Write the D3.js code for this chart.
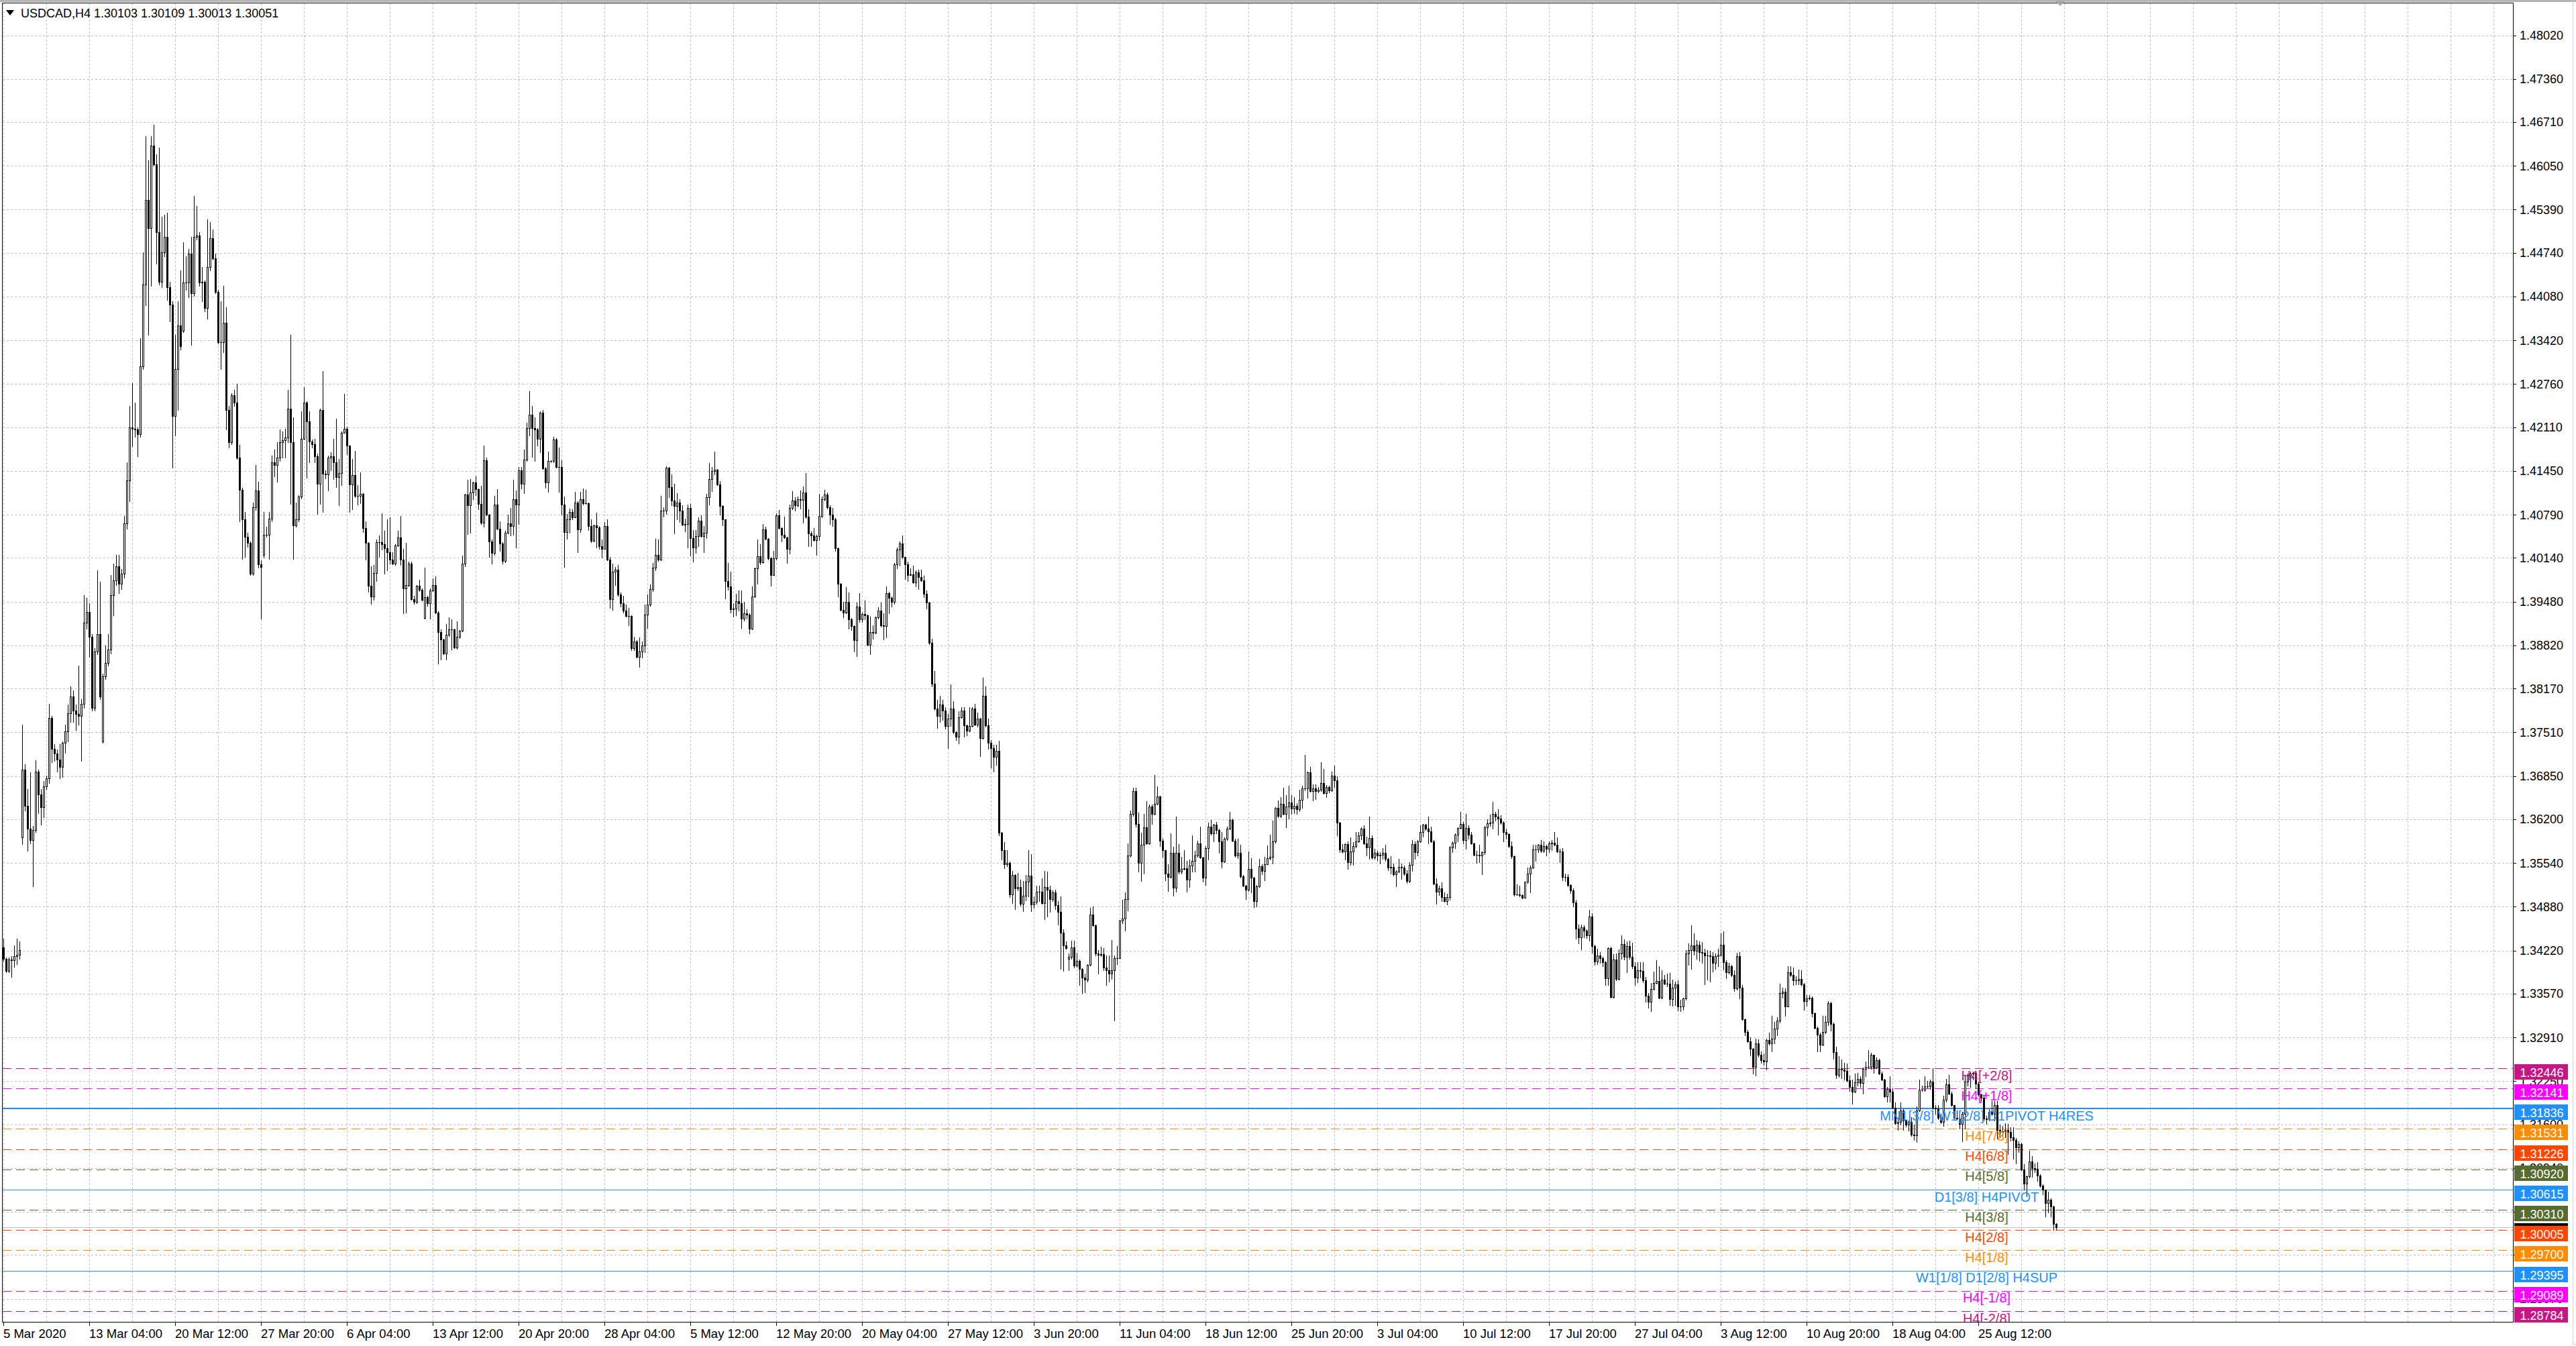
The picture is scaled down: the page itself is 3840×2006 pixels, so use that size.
<!DOCTYPE html>
<html lang="en">
<head>
<meta charset="UTF-8">
<title>USDCAD,H4</title>
<script src="https://d3js.org/d3.v7.min.js"></script>
<style>
  html, body { margin: 0; padding: 0; background: #fff; }
  svg { display: block; }
  text { font-family: "Liberation Sans", Arial, sans-serif; }
</style>
</head>
<body>
<svg id="chart"></svg>
<script>
const W = 3840, H = 2006;

// H4 bars, 5 Mar 2020 20:00 .. 1 Sep 2020 08:00, prices stored as price * 10000
const closes = [
13410,13391,13408,13407,13414,13416,13423,13695,13640,13606,13589,13604,13692,13657,13638,13669,13682,13773,13726,13719,
13710,13699,13735,13752,13780,13805,13784,13779,13776,13794,13916,13933,13895,13788,13873,13899,13805,13835,13856,13876,
13958,13980,14001,13975,13990,14066,14131,14211,14209,14208,14201,14303,14426,14554,14511,14636,14607,14505,14430,14475,
14498,14422,14396,14228,14299,14364,14333,14429,14429,14473,14413,14498,14500,14429,14430,14391,14452,14496,14466,14415,
14339,14339,14369,14237,14188,14259,14248,14165,14117,14072,14046,14037,13990,14090,14116,14004,14000,14049,14049,14073,
14158,14154,14165,14188,14191,14196,14239,14188,14063,14072,14107,14194,14248,14220,14189,14185,14167,14126,14237,14141,
14140,14165,14167,14158,14136,14142,14203,14209,14183,14125,14139,14108,14108,14111,14059,14037,13972,13956,13991,14038,
14038,14035,14029,14023,14011,14005,14033,14045,14011,13968,13973,14005,13952,13948,13972,13966,13951,13955,13946,13965,
13973,13931,13902,13891,13870,13898,13906,13906,13879,13895,13904,14005,14110,14093,14113,14128,14118,14095,14067,14161,
14079,14039,14022,14094,14058,14036,14009,14052,14066,14062,14102,14094,14146,14126,14162,14210,14230,14210,14208,14194,
14233,14149,14128,14160,14160,14193,14151,14151,14094,14053,14072,14083,14075,14097,14057,14102,14096,14096,14062,14040,
14063,14060,14032,14028,14062,14011,13952,13993,13996,13959,13946,13935,13926,13926,13878,13888,13865,13873,13882,13928,
13944,13967,13999,14019,14011,14085,14085,14150,14121,14100,14092,14097,14085,14064,14065,14089,14044,14030,14047,14070,
14047,14052,14105,14133,14145,14147,14125,14092,14072,13979,13971,13937,13938,13949,13946,13922,13930,13928,13907,13956,
13998,14016,14007,14057,14043,14013,13988,14013,14078,14059,14049,14045,14028,14089,14100,14093,14102,14101,14113,14076,
14051,14048,14041,14047,14077,14102,14110,14090,14079,14072,14029,13975,13936,13931,13948,13921,13911,13890,13941,13921,
13929,13927,13883,13902,13901,13924,13935,13912,13911,13961,13954,13948,14004,14027,14036,14015,14004,13988,13989,13977,
13992,13985,13980,13960,13947,13886,13824,13787,13776,13793,13784,13761,13772,13787,13751,13744,13774,13784,13762,13753,
13761,13787,13763,13772,13742,13806,13762,13735,13727,13714,13723,13600,13573,13552,13554,13507,13536,13516,13518,13492,
13505,13526,13535,13491,13495,13511,13511,13493,13518,13514,13500,13510,13490,13480,13449,13430,13426,13413,13427,13399,
13406,13394,13381,13378,13400,13476,13460,13418,13416,13417,13396,13392,13387,13392,13411,13411,13467,13470,13500,13565,
13628,13662,13613,13554,13581,13608,13583,13639,13628,13643,13654,13588,13573,13538,13533,13569,13517,13569,13541,13545,
13546,13529,13550,13557,13565,13583,13562,13532,13576,13609,13599,13612,13604,13587,13556,13591,13606,13619,13588,13565,
13569,13534,13520,13514,13545,13532,13497,13519,13549,13542,13552,13561,13563,13587,13637,13625,13643,13628,13639,13645,
13636,13640,13635,13649,13666,13666,13691,13662,13666,13662,13664,13675,13659,13668,13663,13686,13679,13615,13574,13571,
13582,13555,13571,13579,13587,13596,13606,13584,13577,13592,13562,13569,13565,13566,13569,13560,13547,13548,13537,13541,
13548,13547,13538,13527,13551,13582,13570,13587,13601,13612,13606,13602,13587,13523,13511,13516,13503,13496,13503,13577,
13585,13597,13607,13613,13589,13607,13597,13583,13566,13566,13565,13570,13608,13614,13615,13628,13624,13621,13615,13601,
13598,13579,13564,13507,13507,13506,13502,13526,13538,13547,13574,13574,13581,13572,13579,13575,13584,13585,13581,13571,
13571,13533,13533,13521,13513,13494,13455,13442,13457,13452,13445,13473,13429,13405,13415,13411,13404,13380,13426,13352,
13408,13379,13418,13432,13413,13429,13413,13398,13381,13392,13391,13377,13354,13345,13364,13373,13376,13351,13378,13372,
13372,13349,13366,13371,13338,13338,13350,13418,13423,13430,13422,13431,13420,13419,13415,13415,13414,13403,13414,13416,
13431,13404,13389,13398,13385,13365,13414,13366,13318,13299,13285,13274,13247,13282,13265,13257,13255,13287,13282,13289,
13304,13316,13358,13360,13338,13389,13385,13377,13377,13379,13371,13346,13350,13351,13328,13305,13295,13280,13299,13314,
13343,13311,13269,13234,13244,13243,13241,13226,13216,13209,13223,13228,13222,13244,13247,13247,13265,13246,13257,13237,
13227,13202,13213,13209,13185,13162,13164,13181,13166,13160,13164,13144,13143,13181,13212,13212,13217,13217,13224,13185,
13184,13170,13164,13197,13220,13206,13189,13170,13169,13161,13176,13224,13233,13237,13238,13221,13205,13200,13169,13168,
13179,13176,13189,13152,13148,13150,13152,13148,13140,13136,13125,13130,13092,13071,13082,13104,13094,13093,13083,13068,
13061,13041,13046,13036,13010,13005
];
const highs = [
13440,13412,13412,13414,13430,13440,13436,13763,13703,13665,13691,13610,13709,13695,13665,13678,13686,13794,13776,13733,
13725,13733,13737,13763,13793,13820,13814,13793,13852,13801,13958,13954,13946,13899,13878,13995,13978,13839,13882,13899,
13988,14005,14018,14018,13997,14077,14158,14243,14277,14248,14211,14345,14475,14650,14613,14650,14667,14622,14633,14528,
14531,14534,14430,14401,14350,14401,14447,14490,14469,14480,14498,14560,14545,14505,14452,14432,14524,14520,14509,14473,
14418,14401,14424,14392,14243,14262,14267,14276,14184,14120,14083,14052,14039,14097,14154,14129,14010,14083,14061,14083,
14168,14177,14188,14208,14205,14209,14267,14350,14226,14097,14109,14235,14271,14250,14235,14192,14194,14171,14239,14296,
14146,14168,14173,14194,14224,14163,14205,14261,14212,14183,14163,14175,14124,14143,14112,14069,14038,14001,14003,14042,
14048,14081,14055,14072,14075,14023,14035,14055,14077,14028,14037,14008,14008,13957,13973,13981,13968,13999,13957,13968,
13983,13986,13934,13906,13892,13914,13924,13921,13907,13918,13905,14017,14111,14132,14133,14129,14137,14119,14123,14183,
14165,14080,14042,14108,14118,14069,14038,14055,14079,14089,14132,14116,14151,14151,14177,14218,14265,14243,14226,14210,
14235,14237,14151,14174,14161,14197,14195,14180,14161,14107,14080,14088,14087,14114,14099,14114,14119,14117,14097,14072,
14064,14082,14062,14042,14068,14072,14015,14005,14000,14003,13962,13957,13944,13939,13927,13895,13890,13894,13888,13944,
13959,13974,14006,14043,14042,14108,14090,14152,14151,14140,14126,14112,14102,14093,14073,14094,14095,14056,14056,14075,
14078,14062,14111,14157,14151,14174,14148,14130,14093,14072,14006,13993,13946,13960,13965,13965,13948,13937,13930,13971,
13999,14042,14035,14065,14061,14044,14015,14025,14081,14086,14060,14076,14046,14094,14115,14105,14107,14116,14122,14142,
14087,14054,14059,14049,14111,14107,14117,14113,14093,14089,14074,14030,13976,13948,13970,13962,13923,13912,13947,13961,
13931,13950,13928,13925,13912,13925,13940,13947,13930,13971,13963,13956,14006,14030,14039,14048,14015,14008,13998,14002,
13995,13996,13996,13987,13965,13948,13892,13843,13800,13806,13800,13789,13779,13823,13798,13752,13783,13789,13789,13763,
13789,13789,13794,13781,13773,13833,13820,13772,13739,13732,13732,13738,13601,13586,13573,13556,13542,13537,13539,13529,
13527,13536,13573,13567,13504,13520,13520,13531,13542,13541,13520,13513,13514,13496,13504,13454,13436,13418,13437,13437,
13419,13408,13395,13387,13401,13486,13488,13461,13423,13428,13426,13415,13415,13438,13415,13429,13468,13499,13510,13584,
13633,13667,13667,13630,13600,13628,13647,13642,13642,13687,13669,13655,13591,13573,13552,13599,13578,13624,13582,13563,
13573,13557,13559,13596,13572,13588,13609,13563,13579,13615,13619,13613,13616,13606,13601,13593,13609,13631,13621,13591,
13591,13581,13536,13521,13571,13561,13533,13521,13560,13552,13563,13580,13597,13618,13638,13648,13653,13667,13656,13671,
13656,13653,13644,13664,13670,13717,13692,13699,13673,13673,13668,13706,13696,13672,13670,13692,13701,13685,13616,13582,
13584,13587,13593,13586,13601,13601,13608,13611,13594,13624,13596,13575,13572,13570,13576,13581,13561,13564,13553,13543,
13560,13553,13550,13543,13555,13589,13587,13589,13611,13613,13613,13624,13609,13589,13531,13520,13525,13510,13508,13579,
13587,13599,13608,13631,13616,13628,13611,13601,13585,13572,13581,13571,13610,13620,13627,13646,13631,13635,13626,13617,
13606,13599,13587,13565,13522,13520,13507,13526,13547,13550,13581,13581,13582,13589,13587,13581,13587,13589,13601,13593,
13575,13576,13538,13537,13522,13516,13499,13461,13461,13460,13454,13483,13478,13431,13425,13420,13413,13406,13427,13428,
13417,13418,13424,13445,13439,13436,13437,13434,13404,13404,13404,13404,13382,13358,13373,13390,13407,13398,13392,13385,
13387,13388,13378,13375,13377,13348,13351,13423,13433,13460,13448,13438,13436,13435,13425,13423,13422,13420,13418,13425,
13448,13451,13407,13403,13400,13392,13419,13420,13370,13319,13302,13291,13275,13289,13288,13270,13267,13289,13298,13324,
13314,13321,13372,13366,13365,13398,13398,13396,13383,13393,13392,13373,13355,13355,13353,13329,13307,13298,13324,13324,
13346,13345,13313,13277,13263,13258,13253,13252,13233,13227,13237,13238,13232,13246,13255,13272,13268,13263,13261,13259,
13240,13228,13216,13232,13214,13193,13170,13193,13183,13167,13166,13171,13160,13187,13227,13218,13232,13225,13227,13245,
13189,13189,13176,13203,13228,13234,13209,13189,13181,13173,13179,13233,13237,13240,13240,13240,13224,13206,13203,13173,
13183,13195,13195,13195,13160,13158,13162,13161,13156,13156,13139,13134,13132,13100,13083,13120,13112,13101,13103,13085,
13070,13062,13058,13048,13037,13011
];
const lows = [
13406,13389,13389,13382,13397,13401,13410,13582,13633,13572,13584,13519,13601,13629,13612,13623,13665,13675,13706,13708,
13692,13682,13684,13720,13737,13767,13767,13754,13763,13708,13788,13907,13865,13784,13784,13869,13801,13735,13831,13852,
13870,13927,13973,13961,13967,13984,14058,14099,14182,14197,14167,14197,14299,14395,14350,14424,14605,14458,14426,14422,
14469,14403,14371,14150,14199,14237,14328,14354,14418,14407,14335,14409,14494,14424,14401,14386,14375,14447,14464,14413,
14337,14299,14324,14208,14180,14185,14243,14163,14069,14012,14015,14031,13988,13988,14086,13999,13922,14014,14046,14012,
14069,14137,14129,14160,14165,14165,14188,14095,14012,14061,14069,14103,14192,14135,14158,14180,14158,14080,14095,14083,
14134,14116,14146,14133,14121,14093,14124,14203,14170,14083,14087,14106,14094,14096,14053,14011,13963,13945,13951,13979,
14015,14027,13990,13995,14005,14004,14003,14032,14003,13930,13932,13971,13951,13945,13946,13964,13950,13922,13942,13922,
13964,13930,13855,13861,13869,13861,13896,13876,13878,13877,13893,13903,14001,14050,14052,14102,14109,14087,14065,14061,
14078,14015,14005,14019,14057,14025,14005,14007,14051,14048,14049,14030,14065,14119,14112,14160,14199,14166,14160,14183,
14173,14148,14120,14114,14158,14158,14150,14114,14079,14000,14043,14052,14072,14075,14023,14053,14094,14095,14056,14038,
14039,14030,14028,14014,14028,14010,13939,13936,13973,13957,13941,13932,13925,13912,13875,13875,13864,13850,13864,13872,
13908,13942,13964,13995,14009,14010,14076,14080,14106,14093,14051,14072,14068,14063,14054,14030,14017,14008,14022,14032,
14046,14023,14044,14094,14115,14140,14124,14079,14063,13953,13966,13931,13925,13927,13935,13908,13919,13922,13900,13906,
13955,13975,14004,14006,14042,14011,13972,13988,14011,14058,14039,14044,14006,14021,14087,14085,14091,14088,14067,14074,
14032,14032,14040,14018,14041,14075,14100,14088,14065,14062,14025,13956,13935,13924,13930,13907,13905,13873,13866,13917,
13917,13921,13882,13869,13892,13900,13922,13910,13891,13894,13930,13941,13945,13998,14002,14013,13982,13979,13988,13976,
13971,13967,13979,13955,13938,13884,13820,13785,13757,13767,13770,13756,13727,13761,13749,13739,13734,13773,13744,13746,
13752,13760,13762,13760,13715,13741,13760,13726,13698,13692,13702,13596,13559,13546,13549,13503,13493,13484,13513,13489,
13481,13498,13504,13481,13486,13492,13497,13492,13469,13473,13480,13497,13484,13461,13394,13391,13425,13392,13410,13396,
13397,13370,13358,13359,13375,13399,13459,13415,13387,13414,13392,13370,13375,13379,13316,13401,13411,13463,13452,13482,
13563,13625,13609,13541,13527,13538,13582,13582,13613,13627,13642,13579,13563,13528,13512,13532,13505,13511,13538,13538,
13544,13511,13518,13541,13541,13563,13561,13526,13521,13559,13597,13587,13599,13569,13547,13555,13589,13605,13587,13563,
13561,13532,13519,13500,13512,13510,13487,13488,13518,13537,13528,13552,13559,13553,13585,13623,13623,13627,13608,13621,
13628,13629,13628,13632,13637,13663,13652,13661,13648,13650,13660,13662,13658,13653,13660,13662,13668,13596,13570,13569,
13559,13545,13551,13551,13577,13586,13590,13582,13565,13560,13560,13560,13558,13553,13560,13557,13543,13538,13535,13519,
13540,13530,13536,13524,13525,13542,13560,13565,13586,13594,13604,13584,13586,13522,13492,13506,13497,13495,13491,13499,
13570,13576,13587,13606,13584,13575,13591,13582,13565,13554,13555,13537,13567,13596,13610,13606,13618,13597,13613,13587,
13591,13577,13561,13505,13506,13504,13501,13502,13524,13510,13546,13557,13570,13570,13570,13565,13570,13573,13580,13570,
13555,13528,13527,13519,13509,13488,13440,13433,13424,13442,13441,13437,13419,13400,13401,13403,13398,13370,13370,13351,
13351,13377,13378,13409,13408,13389,13410,13395,13370,13374,13381,13374,13345,13336,13331,13363,13372,13350,13350,13371,
13368,13340,13339,13340,13332,13331,13333,13348,13400,13394,13416,13410,13406,13403,13371,13378,13375,13390,13394,13398,
13414,13393,13380,13387,13383,13361,13363,13350,13317,13294,13284,13264,13237,13233,13262,13253,13250,13243,13280,13270,
13282,13294,13313,13351,13324,13338,13383,13370,13371,13371,13369,13333,13339,13348,13322,13304,13270,13270,13279,13297,
13309,13301,13259,13229,13231,13229,13227,13224,13210,13191,13208,13218,13216,13206,13232,13245,13244,13238,13245,13236,
13226,13201,13194,13194,13184,13161,13152,13160,13152,13157,13151,13142,13136,13133,13180,13210,13210,13215,13213,13183,
13176,13168,13162,13158,13194,13205,13188,13168,13168,13154,13134,13154,13218,13216,13227,13215,13203,13195,13166,13161,
13166,13174,13166,13138,13140,13143,13140,13115,13135,13108,13101,13118,13091,13061,13051,13080,13081,13088,13075,13066,
13054,13021,13027,13021,13001,13001
];
// bars whose open differs from the previous close (first bar and weekend gaps): [bar, open]
const gapOpens = [[0, 13427], [7, 13593], [37, 13737], [67, 14356], [97, 14018], [157, 13923], [397, 13409]];

const priceTicks = [1.48020, 1.47360, 1.46710, 1.46050, 1.45390, 1.44740, 1.44080, 1.43420, 1.42760, 1.42110,
  1.41450, 1.40790, 1.40140, 1.39480, 1.38820, 1.38170, 1.37510, 1.36850, 1.36200, 1.35540, 1.34880, 1.34220,
  1.33570, 1.32910, 1.32250, 1.31600, 1.30940, 1.30280, 1.29630, 1.28970];

const dateBars = [0, 32, 64, 96, 128, 160, 192, 224, 256, 288, 320, 352, 384, 416, 448, 480, 512, 544, 576, 608, 640, 672, 704, 736];
const dateLabels = ["5 Mar 2020", "13 Mar 04:00", "20 Mar 12:00", "27 Mar 20:00", "6 Apr 04:00", "13 Apr 12:00",
  "20 Apr 20:00", "28 Apr 04:00", "5 May 12:00", "12 May 20:00", "20 May 04:00", "27 May 12:00", "3 Jun 20:00",
  "11 Jun 04:00", "18 Jun 12:00", "25 Jun 20:00", "3 Jul 04:00", "10 Jul 12:00", "17 Jul 20:00", "27 Jul 04:00",
  "3 Aug 12:00", "10 Aug 20:00", "18 Aug 04:00", "25 Aug 12:00"];

const levelPrices = [1.32446, 1.32141, 1.31836, 1.31531, 1.31226, 1.30920, 1.30615, 1.30310, 1.30005, 1.29700, 1.29395, 1.29089, 1.28784];
const levelNames = ["H4[+2/8]", "H4[+1/8]", "MN1[3/8] W1[2/8] D1PIVOT H4RES", "H4[7/8]", "H4[6/8]", "H4[5/8]",
  "D1[3/8] H4PIVOT", "H4[3/8]", "H4[2/8]", "H4[1/8]", "W1[1/8] D1[2/8] H4SUP", "H4[-1/8]", "H4[-2/8]"];
const levelColors = ["#c71585", "#ff00ff", "#1e90ff", "#ff8c00", "#ff4500", "#556b2f", "#1e90ff", "#556b2f", "#ff4500", "#ff8c00", "#1e90ff", "#ff00ff", "#c71585"];
const levelKinds = ["dash", "dash", "thick", "dash", "dash", "dash", "solid", "dash", "dash", "dash", "solid", "dash", "dash"];

const titleText = "USDCAD,H4  1.30103 1.30109 1.30013 1.30051";
const bidPrice = 1.30051;

// layout
const plot = { left: 4, top: 5, right: 3746, bottom: 1970 };
const x = d3.scaleLinear().domain([0, 935]).range([5.5, 5.5 + 4 * 935]);
const y = d3.scaleLinear().domain([1.4802, 1.28784]).range([52.5, 1954.0]);
const yl = p => Math.round(y(p)) + 0.5;

const svg = d3.select("#chart").attr("width", W).attr("height", H);
svg.append("rect").attr("width", W).attr("height", H).attr("fill", "#fff");

svg.append("defs").append("clipPath").attr("id", "plotclip")
  .append("rect").attr("x", plot.left).attr("y", plot.top)
  .attr("width", plot.right - plot.left).attr("height", plot.bottom - plot.top);

const g = svg.append("g").attr("clip-path", "url(#plotclip)");

// grid
g.append("g").selectAll("line").data(priceTicks).join("line")
  .attr("x1", plot.left).attr("x2", plot.right)
  .attr("y1", d => yl(d)).attr("y2", d => yl(d))
  .attr("stroke", "#c0c0c0").attr("stroke-dasharray", "3,3").attr("stroke-width", 1);

g.append("g").selectAll("line").data(d3.range(0, 936, 16)).join("line")
  .attr("x1", d => x(d)).attr("x2", d => x(d))
  .attr("y1", plot.top).attr("y2", plot.bottom)
  .attr("stroke", "#c0c0c0").attr("stroke-dasharray", "3,3").attr("stroke-width", 1);

// murrey / pivot levels
const levels = levelPrices.map((p, i) => ({ p, name: levelNames[i], color: levelColors[i], kind: levelKinds[i] }));
g.append("g").selectAll("line").data(levels).join("line")
  .attr("x1", plot.left).attr("x2", plot.right)
  .attr("y1", d => d.kind === "thick" ? Math.round(y(d.p)) : yl(d.p))
  .attr("y2", d => d.kind === "thick" ? Math.round(y(d.p)) : yl(d.p))
  .attr("stroke", d => d.color)
  .attr("stroke-width", d => d.kind === "thick" ? 2 : 1)
  .attr("stroke-dasharray", d => d.kind === "dash" ? "13,7" : null);

// bid line
g.append("line").attr("x1", plot.left).attr("x2", plot.right)
  .attr("y1", yl(bidPrice)).attr("y2", yl(bidPrice))
  .attr("stroke", "#c0c0c0").attr("stroke-width", 1);

// candles
const bars = closes.map((c, i) => {
  const gap = gapOpens.find(d => d[0] === i);
  const o = gap ? gap[1] : closes[i - 1];
  return { i, o: o / 1e4, h: highs[i] / 1e4, l: lows[i] / 1e4, c: c / 1e4 };
});

const cg = g.append("g").attr("shape-rendering", "crispEdges");
cg.selectAll("line").data(bars).join("line")
  .attr("x1", d => x(d.i)).attr("x2", d => x(d.i))
  .attr("y1", d => Math.round(y(Math.max(d.h, d.o, d.c))))
  .attr("y2", d => Math.round(y(Math.min(d.l, d.o, d.c))) + 1)
  .attr("stroke", "#000").attr("stroke-width", 1);

cg.selectAll("rect").data(bars).join("rect")
  .each(function (d) {
    const yo = Math.round(y(d.o)), yc = Math.round(y(d.c));
    const el = d3.select(this);
    if (Math.abs(yo - yc) < 1) {
      el.attr("x", x(d.i) - 1.5).attr("width", 3).attr("y", yo).attr("height", 1).attr("fill", "#000");
    } else if (d.c < d.o) {
      el.attr("x", x(d.i) - 1.5).attr("width", 3).attr("y", yo).attr("height", yc - yo + 1).attr("fill", "#000");
    } else {
      el.attr("x", x(d.i) - 1).attr("width", 2).attr("y", yc + 0.5).attr("height", yo - yc)
        .attr("fill", "#fff").attr("stroke", "#000").attr("stroke-width", 1);
    }
  });

// level captions
g.append("g").selectAll("text").data(levels).join("text")
  .attr("x", x(739)).attr("y", d => y(d.p) + 17.5)
  .attr("text-anchor", "middle").attr("font-size", 20)
  .attr("fill", d => d.color).text(d => d.name);

// frame
svg.append("rect").attr("x", 0).attr("y", 0).attr("width", W).attr("height", 3).attr("fill", "#b4b4b4");
svg.append("rect").attr("x", 3835.5).attr("y", -1).attr("width", 10).attr("height", 2004.5)
  .attr("fill", "none").attr("stroke", "#d4d4d4");
svg.append("path")
  .attr("d", `M${plot.left - 0.5},${plot.bottom + 0.5}V${plot.top - 0.5}H${plot.right + 0.5}V${plot.bottom + 0.5}Z`)
  .attr("fill", "none").attr("stroke", "#000").attr("stroke-width", 1);

// shift marker
const sx = x(766.4);
svg.append("path").attr("d", `M${sx - 8},1L${sx + 8},1L${sx},9Z`).attr("fill", "#a8a8a8");

// title
svg.append("path").attr("d", "M9,15L21,15L15,23Z").attr("fill", "#000");
svg.append("text").attr("x", 31).attr("y", 26).attr("font-size", 18).attr("fill", "#000").text(titleText);

// price axis
const ax = svg.append("g");
ax.selectAll("line").data(priceTicks).join("line")
  .attr("x1", plot.right + 1).attr("x2", plot.right + 5)
  .attr("y1", d => yl(d)).attr("y2", d => yl(d)).attr("stroke", "#000");
ax.selectAll("text").data(priceTicks).join("text")
  .attr("x", 3756).attr("y", d => y(d) + 6.5)
  .attr("font-size", 18).attr("fill", "#000").text(d => d.toFixed(5));

// time axis
const tx = svg.append("g");
tx.selectAll("line").data(dateBars).join("line")
  .attr("x1", d => x(d)).attr("x2", d => x(d))
  .attr("y1", plot.bottom + 1).attr("y2", plot.bottom + 6).attr("stroke", "#000");
tx.selectAll("text").data(dateBars).join("text")
  .attr("x", d => x(d) - 0.5).attr("y", 1994)
  .attr("font-size", 18.5).attr("fill", "#000").text((d, i) => dateLabels[i]);

// price labels on the axis: bid first, level boxes drawn over it
const tags = [{ p: bidPrice, color: "#000" }].concat(levels.map(d => ({ p: d.p, color: d.color })));
const tg = svg.append("g").selectAll("g").data(tags).join("g");
tg.append("rect")
  .attr("x", 3748).attr("y", d => Math.round(y(d.p)) - 6)
  .attr("width", 80).attr("height", 23).attr("fill", d => d.color);
tg.append("text")
  .attr("x", 3756.5).attr("y", d => Math.round(y(d.p)) + 12.5)
  .attr("font-size", 18).attr("fill", "#fff").text(d => d.p.toFixed(5));
</script>
</body>
</html>
